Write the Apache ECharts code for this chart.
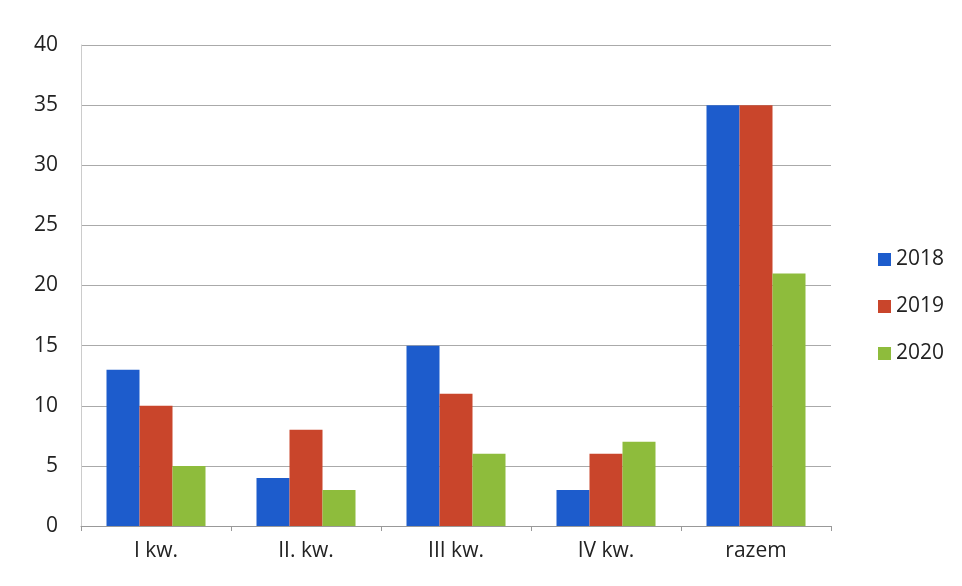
<!DOCTYPE html>
<html>
<head>
<meta charset="utf-8">
<script src="https://cdn.jsdelivr.net/npm/echarts@6/dist/echarts.min.js"></script>
<style>
  html, body { margin: 0; padding: 0; background: #fff; }
  #chart { width: 962px; height: 586px; }
</style>
</head>
<body>
<div id="chart"></div>
<script>
const categories = ['I kw.', 'II. kw.', 'III kw.', 'IV kw.', 'razem']
const seriesNames = ['2018', '2019', '2020']
const values2018 = [13, 4, 15, 3, 35]
const values2019 = [10, 8, 11, 6, 35]
const values2020 = [5, 3, 6, 7, 21]
const colors = ['#1d5ccc', '#c9452b', '#8ebc3c']

const chart = echarts.init(document.getElementById('chart'))

const font = '"Open Sans", "Noto Sans", sans-serif'

chart.setOption({
  animation: false,
  textStyle: { fontFamily: font },
  color: colors,
  grid: {
    left: 81,
    right: 131,
    top: 45,
    bottom: 60,
  },
  legend: {
    orient: 'vertical',
    left: 873,
    top: 244,
    itemWidth: 13,
    itemHeight: 13,
    itemGap: 26,
    icon: 'rect',
    textStyle: { fontSize: 21, color: '#222', fontFamily: font },
    data: seriesNames,
  },
  xAxis: {
    type: 'category',
    data: categories,
    axisLine: { lineStyle: { color: '#999' } },
    axisTick: { show: true, length: 5, lineStyle: { color: '#999' } },
    axisLabel: { fontSize: 21, color: '#222', margin: 15 },
  },
  yAxis: {
    type: 'value',
    min: 0,
    max: 40,
    interval: 5,
    axisLine: { show: true, lineStyle: { color: '#ccc' } },
    axisLabel: { fontSize: 21, color: '#222', margin: 23 },
    splitLine: { lineStyle: { color: '#aaa' } },
  },
  series: [
    { name: seriesNames[0], type: 'bar', data: values2018, barGap: '0%', barCategoryGap: '34%' },
    { name: seriesNames[1], type: 'bar', data: values2019, barGap: '0%', barCategoryGap: '34%' },
    { name: seriesNames[2], type: 'bar', data: values2020, barGap: '0%', barCategoryGap: '34%' },
  ],
})
</script>
</body>
</html>
